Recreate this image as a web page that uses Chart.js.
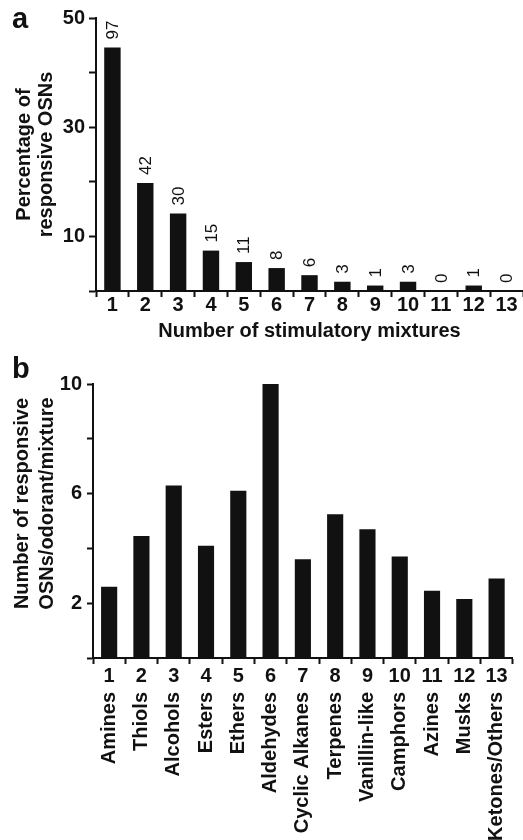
<!DOCTYPE html>
<html>
<head>
<meta charset="utf-8">
<title>Responsive OSNs</title>
<script src="https://cdn.jsdelivr.net/npm/chart.js@4.4.0/dist/chart.umd.min.js"></script>
<style>
  html, body { margin: 0; padding: 0; background: #fff; }
  #wrapA { position: absolute; left: 0; top: 0; width: 523px; height: 345px; }
  #wrapB { position: absolute; left: 0; top: 345px; width: 523px; height: 495px; }
</style>
</head>
<body>
<div id="wrapA"><canvas id="chartA"></canvas></div>
<div id="wrapB"><canvas id="chartB"></canvas></div>
<script>
// --- panel a : how many mixtures each OSN responded to ---
const mixtureNumbers = ['1', '2', '3', '4', '5', '6', '7', '8', '9', '10', '11', '12', '13'];
const responsivePct = [44.6, 19.8, 14.2, 7.4, 5.3, 4.2, 2.9, 1.7, 1.0, 1.7, 0, 1.0, 0];
const responderCounts = [97, 42, 30, 15, 11, 8, 6, 3, 1, 3, 0, 1, 0];
const pctLabelled = [10, 30, 50];

// --- panel b : responsive OSNs per odorant, by chemical class ---
const classNumbers = ['1', '2', '3', '4', '5', '6', '7', '8', '9', '10', '11', '12', '13'];
const classNames = ['Amines', 'Thiols', 'Alcohols', 'Esters', 'Ethers', 'Aldehydes', 'Cyclic Alkanes',
  'Terpenes', 'Vanillin-like', 'Camphors', 'Azines', 'Musks', 'Ketones/Others'];
const osnsPerOdorant = [2.6, 4.45, 6.3, 4.1, 6.1, 10.0, 3.6, 5.25, 4.7, 3.7, 2.45, 2.15, 2.9];
const countLabelled = [2, 6, 10];

const FONT = '"Liberation Sans", Arial, Helvetica, sans-serif';
const INK = '#111';

Chart.defaults.font.family = FONT;
Chart.defaults.color = INK;

// rotated numbers above the bars of panel a
const countLabels = {
  id: 'countLabels',
  afterDatasetsDraw(chart, args, opts) {
    if (!opts.values) return;
    const ctx = chart.ctx;
    const meta = chart.getDatasetMeta(0);
    ctx.save();
    ctx.font = '17px ' + FONT;
    ctx.fillStyle = INK;
    ctx.textAlign = 'left';
    ctx.textBaseline = 'middle';
    meta.data.forEach(function (bar, i) {
      ctx.save();
      ctx.translate(bar.x + 1, bar.y - 8);
      ctx.rotate(-Math.PI / 2);
      ctx.fillText(String(opts.values[i]), 0, 0);
      ctx.restore();
    });
    ctx.restore();
  }
};

// panel letter + free placed vertical title
const panelText = {
  id: 'panelText',
  afterDraw(chart, args, opts) {
    const ctx = chart.ctx;
    ctx.save();
    ctx.fillStyle = INK;
    if (opts.letter) {
      ctx.font = 'bold 29px ' + FONT;
      ctx.textAlign = 'left';
      ctx.textBaseline = 'alphabetic';
      ctx.fillText(opts.letter, opts.letterX, opts.letterY);
    }
    if (opts.sideLines) {
      ctx.font = 'bold 20px ' + FONT;
      ctx.textAlign = 'center';
      ctx.textBaseline = 'alphabetic';
      opts.sideLines.forEach(function (line, i) {
        ctx.save();
        ctx.translate(opts.sideBaselines[i], opts.sideCenter);
        ctx.rotate(-Math.PI / 2);
        ctx.fillText(line, 0, 0);
        ctx.restore();
      });
    }
    ctx.restore();
  }
};

const bold20 = { family: FONT, size: 20, weight: 'bold', lineHeight: 1 };

new Chart(document.getElementById('chartA'), {
  type: 'bar',
  data: {
    labels: mixtureNumbers,
    datasets: [{
      data: responsivePct,
      backgroundColor: INK,
      barPercentage: 0.5,
      categoryPercentage: 1
    }]
  },
  options: {
    responsive: true,
    maintainAspectRatio: false,
    animation: false,
    layout: { padding: { top: 18, right: 0, bottom: 0, left: 0 } },
    plugins: {
      legend: { display: false },
      tooltip: { enabled: false },
      countLabels: { values: responderCounts },
      panelText: { letter: 'a', letterX: 12, letterY: 28 }
    },
    scales: {
      x: {
        offset: true,
        afterFit: function (s) { s.height = 54; },
        grid: { offset: true, drawOnChartArea: false, tickLength: 6, tickWidth: 2, tickColor: INK },
        border: { color: INK, width: 2 },
        ticks: { font: bold20, color: INK, padding: -2, autoSkip: false, maxRotation: 0 },
        title: {
          display: true, text: 'Number of stimulatory mixtures', color: INK,
          font: { family: FONT, size: 20, weight: 'bold', lineHeight: 1.2 },
          padding: { top: 0, bottom: 2 }
        }
      },
      y: {
        min: 0, max: 50,
        afterFit: function (s) { s.width = 96; },
        grid: { drawOnChartArea: false, tickLength: 7, tickWidth: 2, tickColor: INK },
        border: { color: INK, width: 2 },
        ticks: {
          stepSize: 10, font: bold20, color: INK, padding: 4,
          callback: function (v) { return pctLabelled.includes(v) ? v : ''; }
        },
        title: {
          display: true, text: ['Percentage of', 'responsive OSNs'], color: INK,
          font: { family: FONT, size: 20, weight: 'bold', lineHeight: 1.1 },
          padding: { top: 13, bottom: 0 }
        }
      }
    }
  },
  plugins: [countLabels, panelText]
});

new Chart(document.getElementById('chartB'), {
  type: 'bar',
  data: {
    labels: classNumbers,
    datasets: [{
      data: osnsPerOdorant,
      backgroundColor: INK,
      barPercentage: 0.5,
      categoryPercentage: 1
    }]
  },
  options: {
    responsive: true,
    maintainAspectRatio: false,
    animation: false,
    layout: { padding: { top: 39, right: 5, bottom: 0, left: 0 } },
    plugins: {
      legend: { display: false },
      tooltip: { enabled: false },
      panelText: {
        letter: 'b', letterX: 12, letterY: 33,
        sideLines: ['Number of responsive', 'OSNs/odorant/mixture'],
        sideBaselines: [28, 52.5],
        sideCenter: 158.5
      }
    },
    scales: {
      x: {
        offset: true,
        weight: 0,
        afterFit: function (s) { s.height = 32; },
        grid: { offset: true, drawOnChartArea: false, tickLength: 6, tickWidth: 2, tickColor: INK },
        border: { color: INK, width: 2 },
        ticks: { font: bold20, color: INK, padding: 2, autoSkip: false, maxRotation: 0 }
      },
      x2: {
        type: 'category',
        axis: 'x',
        position: 'bottom',
        weight: 1,
        offset: true,
        labels: classNames,
        afterFit: function (s) { s.height = 150; },
        grid: { display: false, drawTicks: false },
        border: { display: false },
        ticks: { font: { family: FONT, size: 20, weight: 'bold', lineHeight: 1.2 }, color: INK, padding: 2, autoSkip: false, minRotation: 90, maxRotation: 90 }
      },
      y: {
        min: 0, max: 10,
        afterFit: function (s) { s.width = 93; },
        grid: { drawOnChartArea: false, tickLength: 6, tickWidth: 2, tickColor: INK },
        border: { color: INK, width: 2 },
        ticks: {
          stepSize: 2, font: bold20, color: INK, padding: 5,
          callback: function (v) { return countLabelled.includes(v) ? v : ''; }
        }
      }
    }
  },
  plugins: [panelText]
});
</script>
</body>
</html>
